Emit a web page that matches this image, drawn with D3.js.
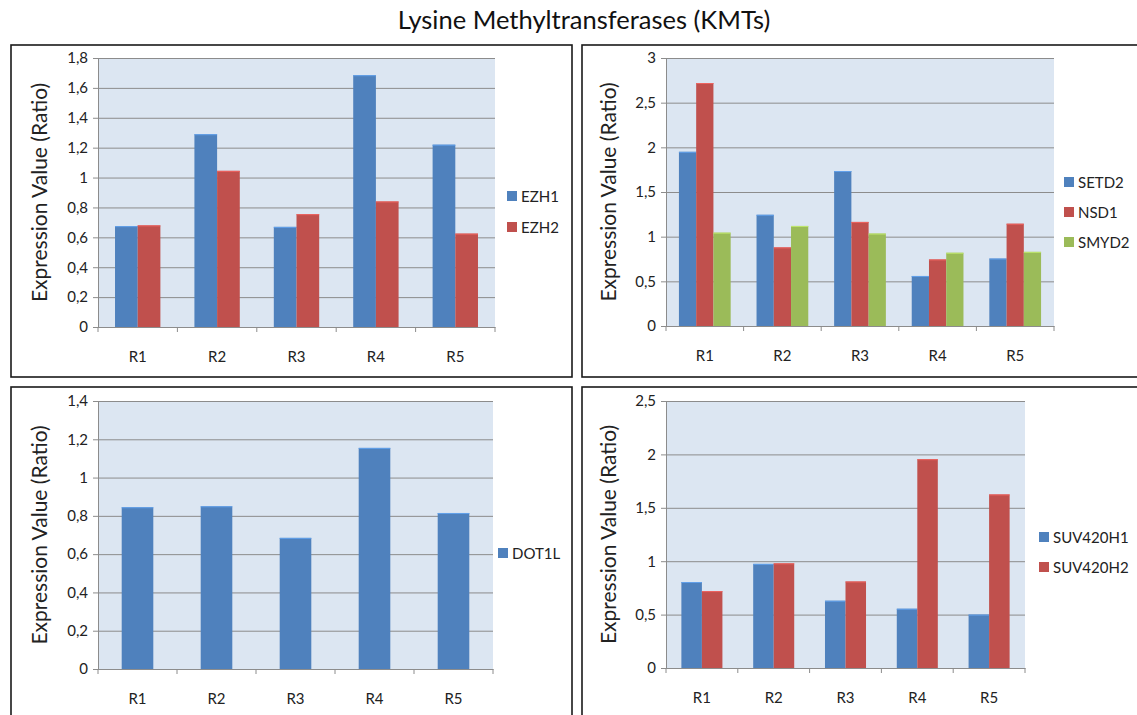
<!DOCTYPE html>
<html>
<head>
  <meta charset="utf-8">
  <script src="https://cdn.jsdelivr.net/npm/d3@7"></script>
  <style>
    body { margin: 0; background: #fff; }
    svg text { font-family: Lato, "Liberation Sans", sans-serif; }
  </style>
</head>
<body>
<script>
  "use strict";

  // categories and values
  var regions = ["R1", "R2", "R3", "R4", "R5"];

  var ezh1 = [0.675, 1.29, 0.67, 1.685, 1.22];
  var ezh2 = [0.68, 1.045, 0.755, 0.84, 0.625];

  var setd2 = [1.95, 1.245, 1.735, 0.56, 0.755];
  var nsd1  = [2.72, 0.88, 1.165, 0.745, 1.145];
  var smyd2 = [1.045, 1.12, 1.035, 0.82, 0.83];

  var dot1l = [0.845, 0.85, 0.685, 1.155, 0.815];

  var suv420h1 = [0.805, 0.975, 0.63, 0.555, 0.50];
  var suv420h2 = [0.72, 0.98, 0.81, 1.955, 1.625];

  var ticksEZH = [0, 0.2, 0.4, 0.6, 0.8, 1, 1.2, 1.4, 1.6, 1.8];
  var ticksSET = [0, 0.5, 1, 1.5, 2, 2.5, 3];
  var ticksDOT = [0, 0.2, 0.4, 0.6, 0.8, 1, 1.2, 1.4];
  var ticksSUV = [0, 0.5, 1, 1.5, 2, 2.5];

  var title = "Lysine Methyltransferases (KMTs)";
  var yTitle = "Expression Value (Ratio)";

  var colors = ["#4F81BD", "#C0504D", "#9BBB59"];

  var panels = [
    { names: ["EZH1", "EZH2"], values: [ezh1, ezh2], ticks: ticksEZH,
      box: [11, 45, 572, 377], plot: { l: 98, r: 495, t: 58, b: 327 },
      legX: 507, legY: 196, legStep: 31, yLabX: 38 },
    { names: ["SETD2", "NSD1", "SMYD2"], values: [setd2, nsd1, smyd2], ticks: ticksSET,
      box: [582, 45, 1150, 377], plot: { l: 666, r: 1054, t: 58, b: 326 },
      legX: 1064, legY: 182, legStep: 30, yLabX: 607 },
    { names: ["DOT1L"], values: [dot1l], ticks: ticksDOT,
      box: [11, 387, 572, 730], plot: { l: 98, r: 493, t: 401, b: 669 },
      legX: 498, legY: 553, legStep: 30, yLabX: 38 },
    { names: ["SUV420H1", "SUV420H2"], values: [suv420h1, suv420h2], ticks: ticksSUV,
      box: [582, 387, 1150, 730], plot: { l: 666, r: 1025, t: 401, b: 668 },
      legX: 1039, legY: 537, legStep: 30, yLabX: 607 }
  ];

  var fmt = function (d) { return String(d).replace(".", ","); };

  var svg = d3.select("body").append("svg")
      .attr("width", 1137)
      .attr("height", 715);

  svg.append("text")
      .attr("x", 584)
      .attr("y", 29)
      .attr("text-anchor", "middle")
      .style("font-size", "25.5px")
      .style("fill", "#111")
      .text(title);

  panels.forEach(function (p) {
    var g = svg.append("g");

    // panel frame
    g.append("rect")
        .attr("x", p.box[0])
        .attr("y", p.box[1])
        .attr("width", p.box[2] - p.box[0])
        .attr("height", p.box[3] - p.box[1])
        .attr("fill", "none")
        .attr("stroke", "#1a1a1a")
        .attr("stroke-width", 1.6);

    var y = d3.scaleLinear()
        .domain([0, d3.max(p.ticks)])
        .range([p.plot.b, p.plot.t]);

    var x0 = d3.scaleBand()
        .domain(regions)
        .range([p.plot.l, p.plot.r]);

    var n = p.names.length;
    var bw = x0.bandwidth() / (n + 1.5);
    var x1 = d3.scaleBand()
        .domain(p.names)
        .range([0, bw * n]);
    var off = (x0.bandwidth() - bw * n) / 2;

    // plot background
    g.append("rect")
        .attr("x", p.plot.l)
        .attr("y", p.plot.t)
        .attr("width", p.plot.r - p.plot.l)
        .attr("height", p.plot.b - p.plot.t)
        .attr("fill", "#DCE6F2");

    // y axis with gridlines
    var yAxis = g.append("g")
        .attr("transform", "translate(" + p.plot.l + ",0)")
        .call(d3.axisLeft(y).tickValues(p.ticks).tickFormat(fmt)
          .tickSize(-(p.plot.r - p.plot.l)).tickSizeOuter(0).tickPadding(10));
    yAxis.select(".domain").attr("stroke", "#8c8c8c");
    yAxis.selectAll(".tick line").attr("stroke", "#8c8c8c").attr("x1", -5);
    yAxis.selectAll(".tick text")
        .style("font-size", "15px")
        .style("fill", "#222")
        .attr("font-family", null);

    // bars
    p.names.forEach(function (name, si) {
      g.append("g").selectAll("rect")
        .data(p.values[si])
        .join("rect")
          .attr("x", function (d, i) { return x0(regions[i]) + off + x1(name); })
          .attr("y", function (d) { return y(d); })
          .attr("width", x1.bandwidth())
          .attr("height", function (d) { return y(0) - y(d); })
          .attr("fill", colors[si]);
      // lighter top edge like the office bevel
      g.append("g").selectAll("line")
        .data(p.values[si])
        .join("line")
          .attr("x1", function (d, i) { return x0(regions[i]) + off + x1(name); })
          .attr("x2", function (d, i) { return x0(regions[i]) + off + x1(name) + x1.bandwidth(); })
          .attr("y1", function (d) { return y(d) + 0.5; })
          .attr("y2", function (d) { return y(d) + 0.5; })
          .attr("stroke", d3.color(colors[si]).brighter(0.6))
          .attr("stroke-width", 1);
    });

    // x axis
    var xAxis = g.append("g")
        .attr("transform", "translate(0," + p.plot.b + ")")
        .call(d3.axisBottom(x0).tickSize(0).tickPadding(24));
    xAxis.select(".domain").attr("stroke", "#8c8c8c");
    xAxis.selectAll(".tick text")
        .style("font-size", "15px")
        .style("fill", "#222")
        .attr("font-family", null);
    xAxis.selectAll(".sep")
      .data(regions.concat(["end"]))
      .join("line")
        .attr("class", "sep")
        .attr("x1", function (d, i) { return p.plot.l + i * x0.step(); })
        .attr("x2", function (d, i) { return p.plot.l + i * x0.step(); })
        .attr("y1", 0)
        .attr("y2", 5)
        .attr("stroke", "#8c8c8c");

    // y title
    g.append("text")
        .attr("transform", "translate(" + p.yLabX + "," + ((p.plot.t + p.plot.b) / 2) + ") rotate(-90)")
        .attr("text-anchor", "middle")
        .attr("dominant-baseline", "central")
        .style("font-size", "21px")
        .style("fill", "#222")
        .text(yTitle);

    // legend
    var leg = g.selectAll(".leg")
      .data(p.names)
      .join("g")
        .attr("class", "leg")
        .attr("transform", function (d, i) {
          return "translate(" + p.legX + "," + (p.legY + i * p.legStep) + ")";
        });
    leg.append("rect")
        .attr("x", 0)
        .attr("y", -5)
        .attr("width", 10)
        .attr("height", 10)
        .attr("fill", function (d, i) { return colors[i]; });
    leg.append("text")
        .attr("x", 14)
        .attr("y", 0)
        .attr("dominant-baseline", "central")
        .style("font-size", "15px")
        .style("fill", "#222")
        .text(function (d) { return d; });
  });
</script>
</body>
</html>
